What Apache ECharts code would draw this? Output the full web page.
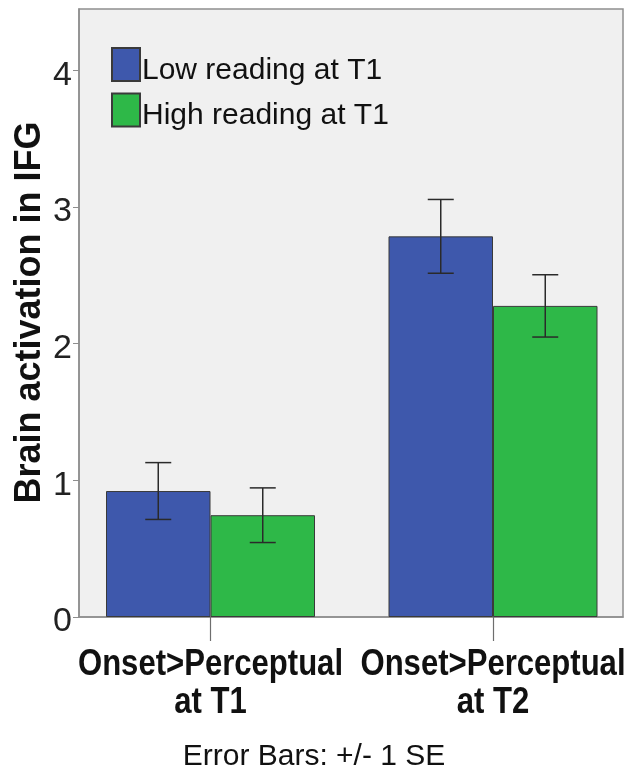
<!DOCTYPE html>
<html>
<head>
<meta charset="utf-8">
<script src="https://cdn.jsdelivr.net/npm/echarts@6/dist/echarts.min.js"></script>
<style>
html,body{margin:0;padding:0;background:#fff;}
#c{width:631px;height:779px;}
</style>
</head>
<body>
<div id="c"></div>
<script>
// ---- data ----
var categories = ['Onset>Perceptual\nat T1', 'Onset>Perceptual\nat T2'];
var seriesNames = ['Low reading at T1', 'High reading at T1'];
var lowMeans = [0.922, 2.786];
var lowSE = [0.208, 0.27];
var highMeans = [0.745, 2.277];
var highSE = [0.2, 0.228];
var yTicks = [0, 1, 2, 3, 4];
var yMax = 4.45;
var yTitle = 'Brain activation in IFG';
var footnote = 'Error Bars: +/- 1 SE';

// ---- styles ----
var BLUE = '#3E58AC', GREEN = '#2EB848';
var BAR_W = 104.5;
var SANS = '"Liberation Sans", Arial, sans-serif';

var chart = echarts.init(document.getElementById('c'), null, {renderer: 'canvas'});

function errItem(side) {
  return function (params, api) {
    var idx = api.value(0), m = api.value(1), se = api.value(2);
    var top = api.coord([idx, m + se]);
    var bot = api.coord([idx, m - se]);
    var x = top[0] + side * BAR_W / 2;
    var cap = 13;
    var st = {stroke: '#2a2a2a', lineWidth: 1.5};
    return {
      type: 'group',
      children: [
        {type: 'line', shape: {x1: x, y1: top[1], x2: x, y2: bot[1]}, style: st},
        {type: 'line', shape: {x1: x - cap, y1: top[1], x2: x + cap, y2: top[1]}, style: st},
        {type: 'line', shape: {x1: x - cap, y1: bot[1], x2: x + cap, y2: bot[1]}, style: st}
      ]
    };
  };
}

function errData(means, se) {
  return means.map(function (m, i) { return [i, m, se[i]]; });
}

var option = {
  animation: false,
  backgroundColor: '#fff',
  grid: [
    {left: 69.25, width: 565, top: 9, bottom: 162, show: false, outerBoundsMode: 'none', containLabel: false},
    {left: 79, right: 8, top: 9, bottom: 162, show: true, outerBoundsMode: 'none', containLabel: false,
     backgroundColor: '#F0F0F0', borderColor: '#8e8e8e', borderWidth: 1.5, z: 0}
  ],
  xAxis: [
    {gridIndex: 0, type: 'category', data: categories,
     axisLine: {show: false},
     axisTick: {show: true, alignWithLabel: true, length: 24, lineStyle: {color: '#6e6e6e', width: 1.2}},
     axisLabel: {show: false}},
    {gridIndex: 1, type: 'value', show: true, min: 0, max: 1,
     axisLine: {show: true, lineStyle: {color: '#8e8e8e', width: 1.5}},
     axisTick: {show: false}, axisLabel: {show: false}, splitLine: {show: false}}
  ],
  yAxis: [
    {gridIndex: 0, type: 'value', min: 0, max: yMax, show: false},
    {gridIndex: 1, type: 'value', min: 0, max: yMax,
     axisLine: {show: true, lineStyle: {color: '#8e8e8e', width: 1.5}},
     axisTick: {show: true, length: 6, lineStyle: {color: '#8e8e8e'}, customValues: yTicks},
     axisLabel: {customValues: yTicks, margin: 7, fontSize: 34, fontFamily: SANS, color: '#222',
                 verticalAlign: 'top', lineHeight: 10},
     splitLine: {show: false}}
  ],
  legend: {
    data: seriesNames,
    orient: 'vertical',
    left: 111, top: 47, padding: 0,
    itemWidth: 28, itemHeight: 33, itemGap: 7,
    icon: 'rect',
    formatter: '{t|{name}}',
    textStyle: {fontSize: 30, fontFamily: SANS, color: '#111',
                rich: {t: {fontSize: 30, fontFamily: SANS, color: '#111', padding: [12, 0, 0, -3]}}}
  },
  series: [
    {name: seriesNames[0], type: 'bar', xAxisIndex: 0, yAxisIndex: 0, data: lowMeans,
     barWidth: BAR_W, barGap: '0%',
     itemStyle: {color: BLUE, borderColor: '#3a3a3a', borderWidth: 1}, z: 2},
    {name: seriesNames[1], type: 'bar', xAxisIndex: 0, yAxisIndex: 0, data: highMeans,
     barWidth: BAR_W, barGap: '0%',
     itemStyle: {color: GREEN, borderColor: '#3a3a3a', borderWidth: 1}, z: 2},
    {type: 'custom', xAxisIndex: 0, yAxisIndex: 0, renderItem: errItem(-1),
     data: errData(lowMeans, lowSE), encode: {x: 0, y: 1}, z: 3, silent: true},
    {type: 'custom', xAxisIndex: 0, yAxisIndex: 0, renderItem: errItem(1),
     data: errData(highMeans, highSE), encode: {x: 0, y: 1}, z: 3, silent: true}
  ],
  graphic: [
    {type: 'text', x: 30, y: 312.5, rotation: Math.PI / 2,
     style: {text: yTitle, font: 'bold 36px ' + SANS, fill: '#111', align: 'center', verticalAlign: 'middle'}},
    {type: 'text', x: 314, y: 757,
     style: {text: footnote, font: '30px ' + SANS, fill: '#111', align: 'center', verticalAlign: 'middle'}}
  ]
};
chart.setOption(option);

// category labels placed at the category positions given by the x axis
var labelGraphics = [];
categories.forEach(function (cat, i) {
  var px = chart.convertToPixel({xAxisIndex: 0}, i);
  cat.split('\n').forEach(function (line, j) {
    labelGraphics.push({
      type: 'text', x: px, y: 665.5 + j * 38, scaleX: 0.863,
      style: {text: line, font: 'bold 36px ' + SANS, fill: '#111', align: 'center', verticalAlign: 'middle'}
    });
  });
});
chart.setOption({graphic: option.graphic.concat(labelGraphics)});
</script>
</body>
</html>
